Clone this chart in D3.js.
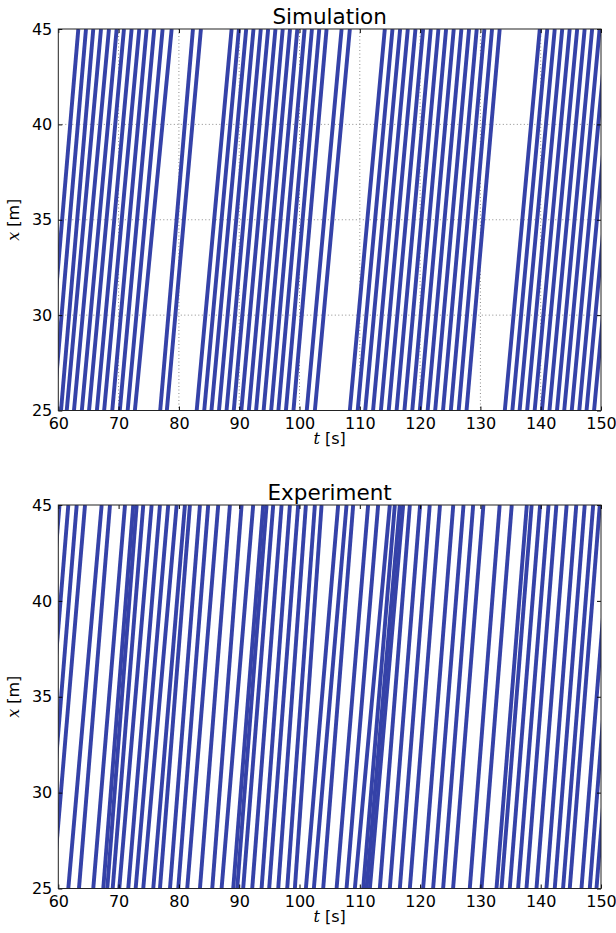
<!DOCTYPE html>
<html>
<head>
<meta charset="utf-8">
<script src="https://cdn.jsdelivr.net/npm/d3@7"></script>
<style>
  body { margin: 0; background: #fff; }
  text { font-family: "DejaVu Sans", sans-serif; fill: #000; }
</style>
</head>
<body>
<div id="chart"></div>
<script>
/**
 * pedestrian trajectories, x(t)
 * each trajectory: time it passes x = 25 m and time it passes x = 45 m
 */

const X_RANGE = [25, 45];
const T_RANGE = [60, 150];
const T_TICKS = [60, 70, 80, 90, 100, 110, 120, 130, 140, 150];
const X_TICKS = [25, 30, 35, 40, 45];

const simEnter = [57.95, 59.2, 60.45, 61.4, 62.6, 63.9, 65.1, 66.4, 67.6, 68.95, 70.2, 71.5, 72.7,
    76.9, 78.0,
    82.95, 84.2, 85.4, 86.65, 87.9, 89.1, 90.35, 91.6, 92.8, 94.05, 95.3, 96.5, 97.75, 99.0,
    101.2, 102.55,
    108.35, 109.65, 110.9, 112.2, 113.5, 114.8, 116.1, 117.4, 118.7, 119.95, 121.25, 122.5, 123.8, 125.1, 126.4, 127.7,
    134.05, 135.3, 136.5, 137.75, 139.0, 140.2, 141.45, 142.7, 143.9, 145.15, 146.4, 147.6, 148.85];
const simExit = [63.32, 64.59, 65.8, 67.08, 68.4, 69.68, 70.89, 72.16, 73.43, 74.65, 75.91, 77.3, 78.8,
    82.33, 83.65,
    88.74, 89.95, 91.16, 92.37, 93.58, 94.8, 96.01, 97.22, 98.43, 99.64, 100.85, 102.06, 103.28, 104.49,
    106.98, 108.35,
    114.15, 115.42, 116.69, 117.96, 119.23, 120.5, 121.77, 123.04, 124.31, 125.58, 126.85, 128.12, 129.39, 130.66, 131.93, 133.2,
    139.85, 141.09, 142.33, 143.57, 144.81, 146.05, 147.29, 148.53, 149.77, 151.01, 152.25, 153.49, 154.73];

const expEnter = [55.1, 56.5, 57.9, 59.1,
    61.66, 63.43, 65.8, 67.46, 68.12, 69.02, 70.11, 71.6, 72.83, 74.09, 75.75, 76.86, 78.52, 79.89,
    81.38, 83.49, 85.53, 87.08, 89.01, 89.67, 90.66, 92.16, 93.71, 94.97, 96.47, 97.96, 99.23,
    101.06, 102.38, 103.93, 106.15, 107.8, 109.18, 110.56, 111.12, 111.67,
    113.32, 114.98, 116.64, 118.3, 120.5, 122.16, 123.82, 125.47, 128.24, 130.18, 132.67, 133.5,
    134.87, 136.25, 137.64, 139.3, 140.95, 142.33, 143.71, 144.82, 146.76, 148.14, 149.25];
const expExit = [60.2, 61.66, 63.05, 64.43,
    67.19, 68.57, 71.06, 72.43, 73.0, 74.09, 75.48, 76.86, 78.23, 79.63, 81.0, 81.83, 83.49, 84.86,
    86.52, 88.46, 90.4, 92.32, 93.98, 94.54, 95.64, 97.03, 98.41, 99.78, 101.06, 102.55, 103.66,
    106.41, 107.8, 108.9, 111.38, 113.04, 114.98, 115.81, 116.64, 117.19,
    118.3, 120.0, 121.6, 123.3, 125.5, 127.2, 128.8, 130.5, 133.2, 135.2, 137.7, 138.5,
    139.9, 141.3, 142.6, 144.3, 145.9, 147.3, 148.7, 149.8, 151.8, 153.1, 154.3];

const WIDTH = 616;
const HEIGHT = 933;
const LEFT = 58.3;
const RIGHT = 601;
const LINE_COLOR = "#3542a8";

const panels = [
    { title: "Simulation", enter: simEnter, exit: simExit, top: 29, bottom: 410.5, grid: true },
    { title: "Experiment", enter: expEnter, exit: expExit, top: 505, bottom: 888.5, grid: false }
];

const svg = d3.select("#chart").append("svg")
    .attr("width", WIDTH)
    .attr("height", HEIGHT);

const tScale = d3.scaleLinear().domain(T_RANGE).range([LEFT, RIGHT]);

panels.forEach(function (p, k) {
    const xScale = d3.scaleLinear().domain(X_RANGE).range([p.bottom, p.top]);
    const g = svg.append("g");
    const clipId = "clip" + k;

    g.append("clipPath").attr("id", clipId)
        .append("rect")
        .attr("x", LEFT).attr("y", p.top)
        .attr("width", RIGHT - LEFT).attr("height", p.bottom - p.top);

    // dotted grid (only the simulation panel has one)
    if (p.grid) {
        g.selectAll(".vgrid").data(T_TICKS.slice(1, -1)).enter().append("line")
            .attr("x1", d => tScale(d)).attr("x2", d => tScale(d))
            .attr("y1", p.top).attr("y2", p.bottom)
            .attr("stroke", "#8a8a8a").attr("stroke-width", 1)
            .attr("stroke-dasharray", "1,2.5");
        g.selectAll(".hgrid").data(X_TICKS.slice(1, -1)).enter().append("line")
            .attr("x1", LEFT).attr("x2", RIGHT)
            .attr("y1", d => xScale(d)).attr("y2", d => xScale(d))
            .attr("stroke", "#8a8a8a").attr("stroke-width", 1)
            .attr("stroke-dasharray", "1,2.5");
    }

    // trajectories
    const traj = p.enter.map((t, i) => [[t, X_RANGE[0]], [p.exit[i], X_RANGE[1]]]);
    g.append("g").attr("clip-path", "url(#" + clipId + ")")
        .selectAll("line").data(traj).enter().append("line")
        .attr("x1", d => tScale(d[0][0])).attr("y1", d => xScale(d[0][1]))
        .attr("x2", d => tScale(d[1][0])).attr("y2", d => xScale(d[1][1]))
        .attr("stroke", LINE_COLOR)
        .attr("stroke-width", 3.9);

    // axes, ticks pointing inward on all four sides
    const bottomAxis = d3.axisBottom(tScale).tickValues(T_TICKS).tickSize(-4).tickPadding(7);
    const topAxis = d3.axisTop(tScale).tickValues(T_TICKS).tickSize(-4).tickFormat("");
    const leftAxis = d3.axisLeft(xScale).tickValues(X_TICKS).tickSize(-4).tickPadding(6);
    const rightAxis = d3.axisRight(xScale).tickValues(X_TICKS).tickSize(-4).tickFormat("");

    const ax = [
        g.append("g").attr("transform", "translate(0," + p.bottom + ")").call(bottomAxis),
        g.append("g").attr("transform", "translate(0," + p.top + ")").call(topAxis),
        g.append("g").attr("transform", "translate(" + LEFT + ",0)").call(leftAxis),
        g.append("g").attr("transform", "translate(" + RIGHT + ",0)").call(rightAxis)
    ];
    ax.forEach(a => {
        a.select(".domain").remove();
        a.selectAll("line").attr("stroke", "#000");
        a.selectAll("text").attr("font-size", 16).attr("fill", "#000")
            .attr("font-family", "DejaVu Sans");
    });

    g.append("rect")
        .attr("x", LEFT).attr("y", p.top)
        .attr("width", RIGHT - LEFT).attr("height", p.bottom - p.top)
        .attr("fill", "none").attr("stroke", "#222").attr("stroke-width", 1);

    // labels
    const mid = (LEFT + RIGHT) / 2;
    g.append("text")
        .attr("x", mid).attr("y", p.top - 5)
        .attr("text-anchor", "middle").attr("font-size", 21.5)
        .text(p.title);

    const tl = g.append("text")
        .attr("x", mid).attr("y", p.bottom + 33)
        .attr("text-anchor", "middle").attr("font-size", 16);
    tl.append("tspan").attr("font-family", "DejaVu Serif").attr("font-style", "italic").text("t");
    tl.append("tspan").text(" [s]");

    const yc = (p.top + p.bottom) / 2;
    const xl = g.append("text")
        .attr("transform", "translate(19," + yc + ") rotate(-90)")
        .attr("text-anchor", "middle").attr("font-size", 16);
    xl.append("tspan").attr("font-family", "DejaVu Serif").attr("font-style", "italic").text("x");
    xl.append("tspan").text(" [m]");
});
</script>
</body>
</html>
